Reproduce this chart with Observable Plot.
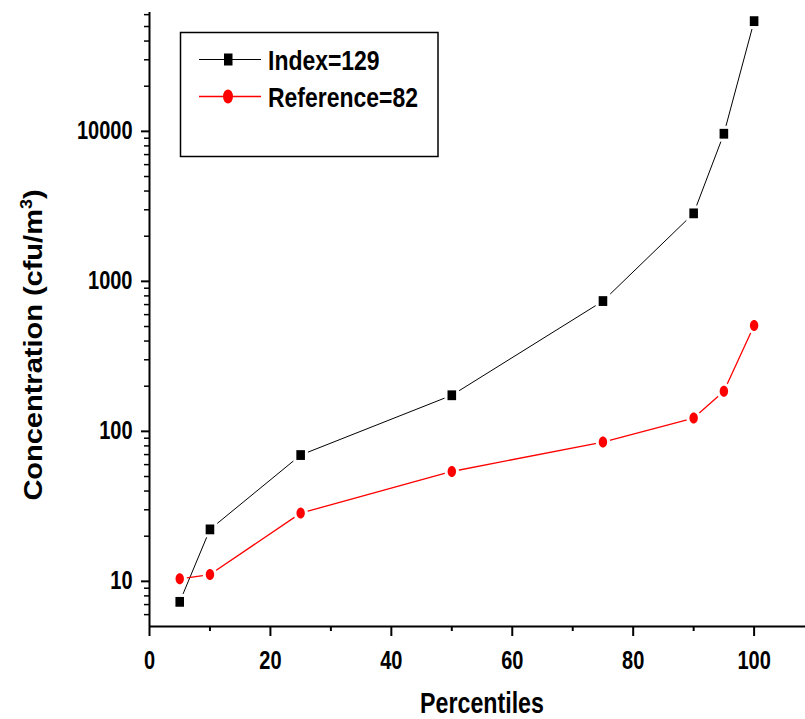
<!DOCTYPE html>
<html><head><meta charset="utf-8">
<script src="https://cdn.jsdelivr.net/npm/d3@7"></script>
<script src="https://cdn.jsdelivr.net/npm/@observablehq/plot@0.6"></script>
<style>body{margin:0;background:#fff} svg{display:block}</style>
</head><body><div id="chart"></div>
<script>
const percentiles = [5, 10, 25, 50, 75, 90, 95, 100];
const indexValues = [7.3, 22.2, 69.5, 174, 739, 2840, 9640, 54300];
const referenceValues = [10.4, 11.1, 28.5, 54, 84.9, 122.6, 184.8, 507];
const seriesNames = ["Index=129", "Reference=82"];
const seriesColors = ["#000000", "#ff0000"];
const xTicks = [0, 20, 40, 60, 80, 100];
const xMinorTicks = [10, 30, 50, 70, 90];
const yTicks = [10, 100, 1000, 10000];
const yMinorTicks = [6, 7, 8, 9, 20, 30, 40, 50, 60, 70, 80, 90, 200, 300, 400, 500, 600, 700, 800, 900,
  2000, 3000, 4000, 5000, 6000, 7000, 8000, 9000, 20000, 30000, 40000, 50000, 60000];

const indexRows = percentiles.map((p, i) => ({p, v: indexValues[i]}));
const refRows = percentiles.map((p, i) => ({p, v: referenceValues[i]}));

function rectSym(w, h) {
  return {draw(ctx) { ctx.moveTo(-w, -h); ctx.lineTo(w, -h); ctx.lineTo(w, h); ctx.lineTo(-w, h); ctx.closePath(); }};
}
function ellipseSym(rx, ry) {
  const k = 0.5523;
  return {draw(ctx) {
    ctx.moveTo(rx, 0);
    ctx.bezierCurveTo(rx, ry * k, rx * k, ry, 0, ry);
    ctx.bezierCurveTo(-rx * k, ry, -rx, ry * k, -rx, 0);
    ctx.bezierCurveTo(-rx, -ry * k, -rx * k, -ry, 0, -ry);
    ctx.bezierCurveTo(rx * k, -ry, rx, -ry * k, rx, 0);
    ctx.closePath();
  }};
}
const sq = rectSym(4.3, 4.9), sqHalo = rectSym(7.3, 7.9);
const el = ellipseSym(4.2, 5.5), elHalo = ellipseSym(7.2, 8.5);

const FONT = "'Liberation Sans', Arial, Helvetica, sans-serif";
const plot = Plot.plot({
  width: 805, height: 719,
  marginLeft: 149, marginRight: 0, marginTop: 12, marginBottom: 93,
  style: {fontFamily: FONT, fontWeight: "bold", background: "#fff", color: "#000", overflow: "visible"},
  x: {domain: [0, 108.5]},
  y: {type: "log", domain: [5, 62000]},
  marks: [
    Plot.axisX({ticks: xTicks, tickSize: 10, tickPadding: 15, fontSize: 25, strokeWidth: 2, label: null, tickFormat: d => String(d)}),
    Plot.axisX({ticks: xMinorTicks, tickSize: 5, strokeWidth: 2, label: null, tickFormat: () => ""}),
    Plot.axisY({ticks: yTicks, tickSize: 8, tickPadding: 9, fontSize: 25, strokeWidth: 2, label: null, tickFormat: d => String(d)}),
    Plot.axisY({ticks: yMinorTicks, tickSize: 5, strokeWidth: 1.5, label: null, tickFormat: () => ""}),
    Plot.ruleX([0], {strokeWidth: 2}),
    Plot.ruleY([5], {strokeWidth: 2}),
    Plot.line(indexRows, {x: "p", y: "v", stroke: seriesColors[0], strokeWidth: 1}),
    Plot.line(refRows, {x: "p", y: "v", stroke: seriesColors[1], strokeWidth: 1.3}),
    Plot.dot(indexRows, {x: "p", y: "v", symbol: sqHalo, fill: "#fff"}),
    Plot.dot(indexRows, {x: "p", y: "v", symbol: sq, fill: seriesColors[0]}),
    Plot.dot(refRows, {x: "p", y: "v", symbol: elHalo, fill: "#fff"}),
    Plot.dot(refRows, {x: "p", y: "v", symbol: el, fill: seriesColors[1]})
  ]
});
document.getElementById("chart").appendChild(plot);

// condense horizontal tick labels
plot.querySelectorAll('g[aria-label$="tick label"] text').forEach(t => {
  const tr = t.getAttribute("transform");
  if (tr) t.setAttribute("transform", tr + " scale(0.8,1)");
  else {
    const x = +t.getAttribute("x") || 0, y = +t.getAttribute("y") || 0;
    t.removeAttribute("x"); t.removeAttribute("y");
    t.setAttribute("transform", `translate(${x},${y}) scale(0.8,1)`);
  }
});

const svg = d3.select(plot);
// axis titles
svg.append("text")
  .attr("transform", "translate(482,713) scale(0.8,1)")
  .attr("text-anchor", "middle").attr("font-size", 29).attr("font-weight", "bold")
  .attr("font-family", FONT).attr("fill", "#000").text("Percentiles");
const yt = svg.append("text")
  .attr("transform", "translate(42,345) rotate(-90) scale(1,0.87)")
  .attr("text-anchor", "middle").attr("font-size", 29).attr("font-weight", "bold")
  .attr("font-family", FONT).attr("fill", "#000");
yt.append("tspan").text("Concentration (cfu/m");
yt.append("tspan").attr("dy", -12).attr("font-size", 18).text("3");
yt.append("tspan").attr("dy", 12).text(")");

// legend
const lg = svg.append("g");
lg.append("rect").attr("x", 180.5).attr("y", 32.5).attr("width", 257.5).attr("height", 124)
  .attr("fill", "none").attr("stroke", "#000").attr("stroke-width", 1.5);
const rows = [{y: 59.5, sym: "rect"}, {y: 96.5, sym: "ellipse"}];
rows.forEach((r, i) => {
  lg.append("line").attr("x1", 199).attr("x2", 261).attr("y1", r.y).attr("y2", r.y)
    .attr("stroke", seriesColors[i]).attr("stroke-width", i ? 1.3 : 1);
  if (r.sym === "rect") lg.append("rect").attr("x", 224).attr("y", r.y - 6).attr("width", 8.5).attr("height", 12).attr("fill", seriesColors[i]);
  else lg.append("ellipse").attr("cx", 228).attr("cy", r.y).attr("rx", 5).attr("ry", 7).attr("fill", seriesColors[i]);
  lg.append("text").attr("transform", `translate(268,${r.y + 10}) scale(0.82,1)`)
    .attr("text-anchor", "start")
    .attr("font-size", 28).attr("font-weight", "bold").attr("font-family", FONT).attr("fill", "#000")
    .text(seriesNames[i]);
});
</script>
</body></html>
